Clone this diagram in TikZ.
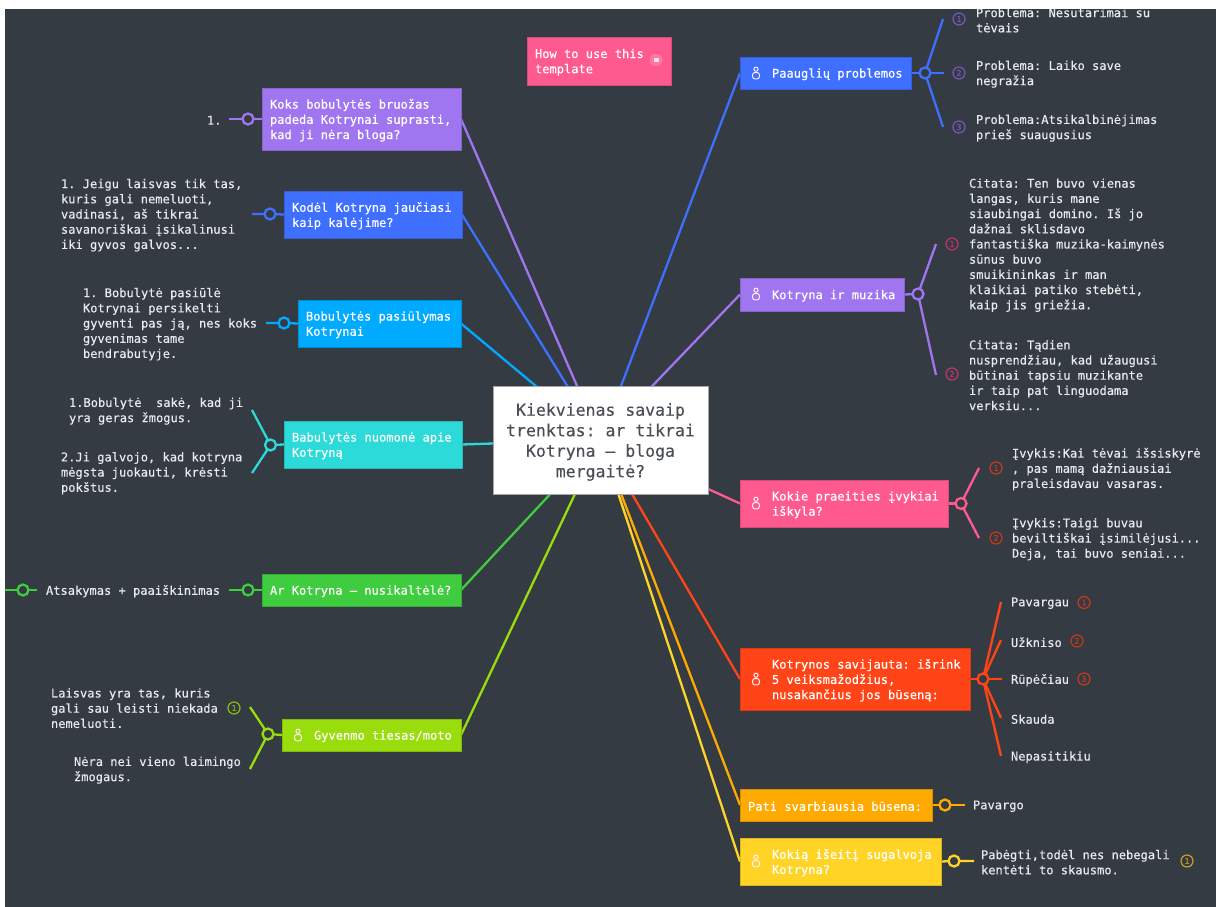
\documentclass[tikz,border=0pt]{standalone}
\usepackage{fontspec}
\setmainfont[FakeBold=0.3,WordSpace={1,0,0},PunctuationSpace=WordSpace]{DejaVu Sans Mono}
\frenchspacing
\pgfdeclarelayer{back}
\pgfdeclarelayer{lines}
\pgfdeclarelayer{front}
\pgfsetlayers{back,lines,main,front}
\definecolor{bgdark}{HTML}{353B42}
\definecolor{cblue}{HTML}{3F6FFF}
\definecolor{cpurple}{HTML}{A076F0}
\definecolor{csky}{HTML}{00AAFF}
\definecolor{cteal}{HTML}{2BDAD9}
\definecolor{cgreen}{HTML}{3FCC3F}
\definecolor{clime}{HTML}{99DD0C}
\definecolor{cpink}{HTML}{FF5A8F}
\definecolor{cred}{HTML}{FF4518}
\definecolor{corange}{HTML}{FFAA00}
\definecolor{cyellow}{HTML}{FFD426}
\definecolor{ipurple}{HTML}{7A55BF}
\definecolor{icrimson}{HTML}{C23565}
\definecolor{ired}{HTML}{C8391C}
\definecolor{ilime}{HTML}{86BE10}
\definecolor{igold}{HTML}{C9A020}
\definecolor{lbltext}{HTML}{E8EAEC}
\definecolor{titletext}{HTML}{4A4F55}
\newcommand{\ind}{\hspace*{24pt}}
\newcommand{\fixsp}{\frenchspacing\spaceskip=\fontcharwd\font`n\relax}
\newcommand{\dropline}[1]{\leavevmode\vadjust pre{\vskip #1}}
\tikzset{
  x=1pt,y=-1pt,
  every node/.style={outer sep=0pt},
  topic/.style n args={3}{rectangle,anchor=north west,fill=#3,draw=#3!85!black,line width=.6pt,
    minimum width=#1pt,minimum height=#2pt,text width=#1pt-16pt,inner xsep=8pt,inner ysep=0pt,
    align=left,text=white,font=\fontsize{12.05}{15.2}\selectfont,
    execute at begin node={\fixsp\dropline{2.6pt}}},
  lbl/.style={anchor=west,align=left,inner sep=0pt,text=lbltext,yshift=-1.2pt,font=\fontsize{12.05}{15.2}\selectfont\fixsp},
  conn/.style={draw=#1,line width=2.3pt},
  dot/.style={circle,draw=#1,fill=bgdark,line width=2.3pt,minimum size=11pt,inner sep=0pt},
  numi/.style={circle,draw=#1,text=#1,line width=1.2pt,minimum size=12pt,inner sep=0pt,font=\fontsize{8}{8}\selectfont},
  person/.pic={
    \draw[white!90!cpink,line width=1pt] (0,-3.8) circle (2.1pt);
    \draw[white!90!cpink,line width=1pt,rounded corners=2pt] (-3.3,-0.4) rectangle (3.3,5.8);
  }
}
\begin{document}
\begin{tikzpicture}
\useasboundingbox (0,0) rectangle (1216,907);
\begin{pgfonlayer}{back}
  \fill[white] (0,0) rectangle (1216,907);
  \fill[bgdark] (5,9) rectangle (1216,907);
\end{pgfonlayer}

% central node
\node[rectangle,anchor=north west,fill=white,draw=black!35,line width=.6pt,minimum width=215pt,minimum height=108pt,
  text width=205pt,inner xsep=5pt,inner ysep=0pt,align=center,text=titletext,font=\fontsize{16.5}{20.5}\selectfont,
  execute at begin node={\fixsp\dropline{4pt}}] (center) at (493,386)
  {Kiekvienas savaip\\trenktas: ar tikrai\\Kotryna – bloga\\mergaitė?};

% note
\node[topic={144}{48}{cpink}] (howto) at (527,37) {How to use this\\template};
\fill[white,opacity=.18] (656,60) circle (6.3pt);
\fill[white,opacity=.8] (653.5,58) rectangle (658.5,62.5);

% left topics
\node[topic={199}{62}{cpurple}] (koks) at (262,88) {Koks bobulytės bruožas\\padeda Kotrynai suprasti,\\kad ji nėra bloga?};
\node[topic={178}{47}{cblue}] (kodel) at (284,191) {Kodėl Kotryna jaučiasi\\kaip kalėjime?};
\node[topic={163}{47}{csky}] (pasiul) at (298,300) {Bobulytės pasiūlymas\\Kotrynai};
\node[topic={178}{47}{cteal}] (nuom) at (284,421) {Babulytės nuomonė apie\\Kotryną};
\node[topic={199}{32}{cgreen}] (nusik) at (262,574) {Ar Kotryna – nusikaltėlė?};
\node[topic={179}{32}{clime}] (gyv) at (282,719) {\ind Gyvenmo tiesas/moto};

% right topics
\node[topic={171}{32}{cblue}] (paaug) at (740,57) {\ind Paauglių problemos};
\node[topic={164}{33}{cpurple}] (muz) at (740,278) {\ind Kotryna ir muzika};
\node[topic={208}{47}{cpink}] (prae) at (740,480) {\ind Kokie praeities įvykiai\\\ind iškyla?};
\node[topic={230}{62}{cred}] (sav) at (740,648) {\ind Kotrynos savijauta: išrink\\\ind 5 veiksmažodžius,\\\ind nusakančius jos būseną:};
\node[topic={192}{32}{corange}] (pati) at (740,789) {Pati svarbiausia būsena:};
\node[topic={201}{47}{cyellow}] (iseit) at (740,838) {\ind Kokią išeitį sugalvoja\\\ind Kotryna?};

% person icons
\pic at (298,735) {person};
\pic at (756,73) {person};
\pic at (756,294) {person};
\pic at (756,503) {person};
\pic at (756,679) {person};
\pic at (756,861) {person};

% junction dots
\node[dot=cpurple] (dkoks) at (248,119) {};
\node[dot=cblue] (dkodel) at (270,214) {};
\node[dot=csky] (dpas) at (284,323) {};
\node[dot=cteal] (dnuom) at (270.5,445) {};
\node[dot=cgreen] (dnus) at (248,590) {};
\node[dot=cgreen] (dats) at (23,590) {};
\node[dot=clime] (dgyv) at (268,734) {};
\node[dot=cblue] (dpaa) at (925,73) {};
\node[dot=cpurple] (dmuz) at (918,294) {};
\node[dot=cpink] (dpra) at (961,503.5) {};
\node[dot=cred] (dsav) at (983,679) {};
\node[dot=corange] (dpat) at (945,805) {};
\node[dot=cyellow] (dise) at (954,861) {};

% free ends
\coordinate (ekoks) at (229,119);
\coordinate (ekodel) at (252,214);
\coordinate (epas) at (266,323);
\coordinate (enu1) at (252,410);
\coordinate (enu2) at (252,473);
\coordinate (enus) at (229,590);
\coordinate (eats1) at (37,590);
\coordinate (eats2) at (5,590);
\coordinate (egy1) at (250,707);
\coordinate (egy2) at (250,769);
\coordinate (epa1) at (943,19);
\coordinate (epa2) at (944,73);
\coordinate (epa3) at (943,127);
\coordinate (emu1) at (936,244);
\coordinate (emu2) at (936,375);
\coordinate (epr1) at (979,468);
\coordinate (epr2) at (979,538);
\coordinate (esa1) at (1001,602);
\coordinate (esa2) at (1001,640);
\coordinate (esa3) at (1002,679);
\coordinate (esa4) at (1001,718);
\coordinate (esa5) at (1001,756);
\coordinate (epat) at (965,805);
\coordinate (eise) at (974,861);

\begin{pgfonlayer}{lines}
  \draw[conn=cpurple] (koks.east) -- (center.center);
  \draw[conn=cblue] (kodel.east) -- (center.center);
  \draw[conn=csky] (pasiul.east) -- (center.center);
  \draw[conn=cteal] (nuom.east) -- (center.center);
  \draw[conn=cgreen] (nusik.east) -- (center.center);
  \draw[conn=clime] (gyv.east) -- (center.center);
  \draw[conn=cblue] (paaug.west) -- (center.center);
  \draw[conn=cpurple] (muz.west) -- (center.center);
  \draw[conn=cpink] (prae.west) -- (center.center);
  \draw[conn=cred] (sav.west) -- (center.center);
  \draw[conn=corange] (pati.west) -- (center.center);
  \draw[conn=cyellow] (iseit.west) -- (center.center);

  \draw[conn=cpurple] (koks.west) -- (dkoks) -- (ekoks);
  \draw[conn=cblue] (kodel.west) -- (dkodel) -- (ekodel);
  \draw[conn=csky] (pasiul.west) -- (dpas) -- (epas);
  \draw[conn=cteal] (nuom.west) -- (dnuom.center);
  \draw[conn=cteal] (enu1) -- (dnuom.center) -- (enu2);
  \draw[conn=cgreen] (nusik.west) -- (dnus) -- (enus);
  \draw[conn=cgreen] (eats1) -- (dats) -- (eats2);
  \draw[conn=clime] (gyv.west) -- (dgyv.center);
  \draw[conn=clime] (egy1) -- (dgyv.center) -- (egy2);
  \draw[conn=cblue] (paaug.east) -- (dpaa.center) -- (epa2);
  \draw[conn=cblue] (epa1) -- (dpaa.center) -- (epa3);
  \draw[conn=cpurple] (muz.east) -- (dmuz.center);
  \draw[conn=cpurple] (emu1) -- (dmuz.center) -- (emu2);
  \draw[conn=cpink] (prae.east) -- (dpra.center);
  \draw[conn=cpink] (epr1) -- (dpra.center) -- (epr2);
  \draw[conn=cred] (sav.east) -- (dsav.center) -- (esa3);
  \draw[conn=cred] (esa1) -- (dsav.center) -- (esa5);
  \draw[conn=cred] (esa2) -- (dsav.center) -- (esa4);
  \draw[conn=corange] (pati.east) -- (dpat) -- (epat);
  \draw[conn=cyellow] (iseit.east) -- (dise) -- (eise);
\end{pgfonlayer}

% left labels
\node[lbl] (t1) at (207,119) {1.};
\node[lbl] (t2) at (61,214) {1. Jeigu laisvas tik tas,\\kuris gali nemeluoti,\\vadinasi, aš tikrai\\savanoriškai įsikalinusi\\iki gyvos galvos...};
\node[lbl] (t3) at (83,323) {1. Bobulytė pasiūlė\\Kotrynai persikelti\\gyventi pas ją, nes koks\\gyvenimas tame\\bendrabutyje.};
\node[lbl] (t4) at (69,410) {1.Bobulytė\ \ sakė, kad ji\\yra geras žmogus.};
\node[lbl] (t5) at (61,472) {2.Ji galvojo, kad kotryna\\mėgsta juokauti, krėsti\\pokštus.};
\node[lbl] (t6) at (46,590) {Atsakymas + paaiškinimas};
\node[lbl] (t7) at (51,707) {Laisvas yra tas, kuris\\gali sau leisti niekada\\nemeluoti.};
\node[numi=ilime] (n7) at (234,708) {1};
\node[lbl] (t8) at (74,769) {Nėra nei vieno laimingo\\žmogaus.};

% right labels
\node[numi=ipurple] (np1) at (959,19) {1};
\node[lbl] (r1) at (976,19) {Problema: Nesutarimai su\\tėvais};
\node[numi=ipurple] (np2) at (959,73) {2};
\node[lbl] (r2) at (976,73) {Problema: Laiko save\\negražia};
\node[numi=ipurple] (np3) at (959,127) {3};
\node[lbl] (r3) at (976,127) {Problema:Atsikalbinėjimas\\prieš suaugusius};
\node[numi=icrimson] (nm1) at (952,244) {1};
\node[lbl] (r4) at (969,244) {Citata: Ten buvo vienas\\langas, kuris mane\\siaubingai domino. Iš jo\\dažnai sklisdavo\\fantastiška muzika-kaimynės\\sūnus buvo\\smuikininkas ir man\\klaikiai patiko stebėti,\\kaip jis griežia.};
\node[numi=icrimson] (nm2) at (952,374) {2};
\node[lbl] (r5) at (969,374) {Citata: Tądien\\nusprendžiau, kad užaugusi\\būtinai tapsiu muzikante\\ir taip pat linguodama\\verksiu...};
\node[numi=ired] (nk1) at (996,468) {1};
\node[lbl] (r6) at (1012,468) {Įvykis:Kai tėvai išsiskyrė\\, pas mamą dažniausiai\\praleisdavau vasaras.};
\node[numi=ired] (nk2) at (996,538) {2};
\node[lbl] (r7) at (1012,538) {Įvykis:Taigi buvau\\beviltiškai įsimilėjusi...\\Deja, tai buvo seniai...};
\node[lbl] (s1) at (1011,602) {Pavargau};
\node[numi=ired] (ns1) at (1084,602.5) {1};
\node[lbl] (s2) at (1011,641) {Užkniso};
\node[numi=ired] (ns2) at (1077,641) {2};
\node[lbl] (s3) at (1011,679) {Rūpėčiau};
\node[numi=ired] (ns3) at (1084,679) {3};
\node[lbl] (s4) at (1011,718) {Skauda};
\node[lbl] (s5) at (1011,756) {Nepasitikiu};
\node[lbl] (r8) at (973,805) {Pavargo};
\node[lbl] (r9) at (981,861) {Pabėgti,todėl nes nebegali\\kentėti to skausmo.};
\node[numi=igold] (ni) at (1187,861) {1};

\begin{pgfonlayer}{front}
  \fill[white] (0,0) rectangle (1216,9);
\end{pgfonlayer}
\end{tikzpicture}
\end{document}
